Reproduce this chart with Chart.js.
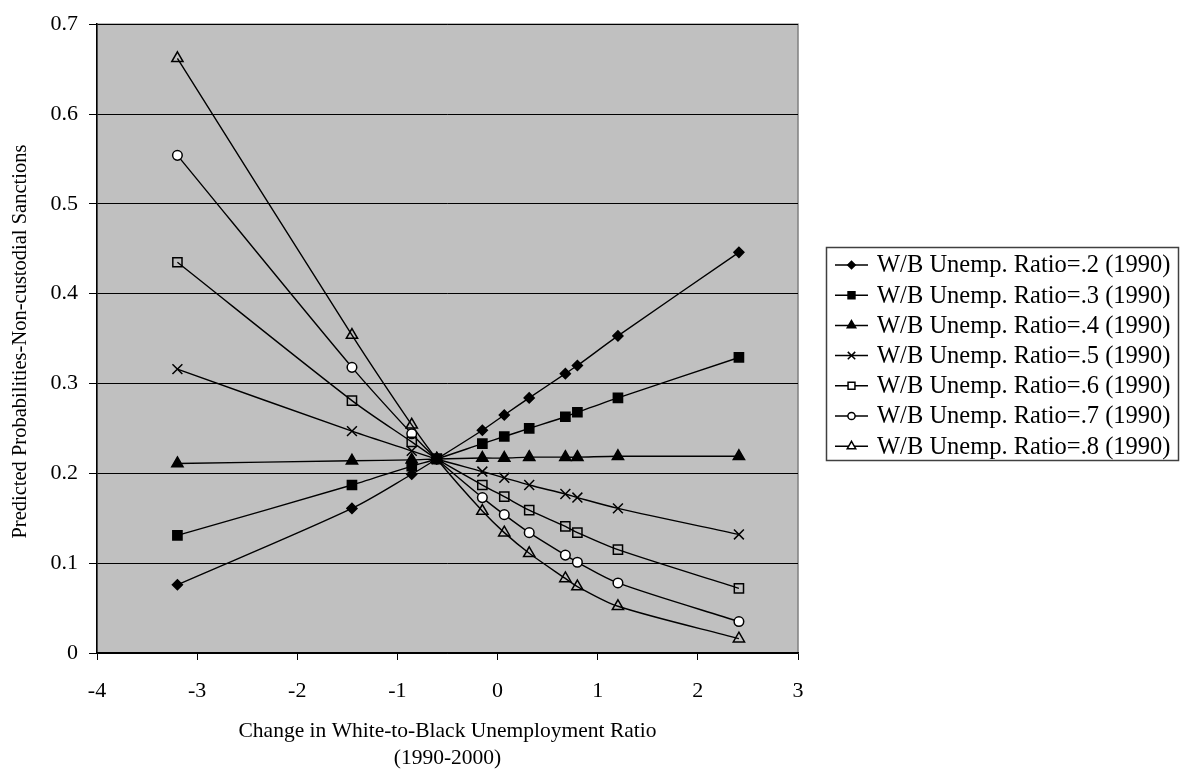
<!DOCTYPE html>
<html>
<head>
<meta charset="utf-8">
<title>Predicted probabilities of non-custodial sanctions</title>
<script src="https://cdn.jsdelivr.net/npm/chart.js@4"></script>
<style>
  html, body { margin: 0; padding: 0; background: #fff; }
  #wrap { width: 1187px; height: 783px; position: relative; }
</style>
</head>
<body>
<div id="wrap"><canvas id="sanctions-chart"></canvas></div>
<script>
// change in white-to-black unemployment ratio, 1990-2000
const xChange = [-3.197, -1.454, -0.857, -0.607, -0.152, 0.067, 0.316, 0.677, 0.797, 1.202, 2.41];

// predicted probabilities for each 1990 W/B unemployment ratio
const ratio2 = [0.076, 0.161, 0.199, 0.216, 0.248, 0.265, 0.284, 0.311, 0.320, 0.353, 0.446];
const ratio3 = [0.131, 0.187, 0.208, 0.216, 0.233, 0.241, 0.250, 0.263, 0.268, 0.284, 0.329];
const ratio4 = [0.211, 0.214, 0.215, 0.216, 0.217, 0.217, 0.218, 0.218, 0.218, 0.219, 0.219];
const ratio5 = [0.316, 0.247, 0.225, 0.216, 0.202, 0.195, 0.187, 0.177, 0.173, 0.161, 0.132];
const ratio6 = [0.435, 0.281, 0.235, 0.216, 0.187, 0.174, 0.159, 0.141, 0.134, 0.115, 0.072];
const ratio7 = [0.554, 0.318, 0.244, 0.216, 0.173, 0.154, 0.134, 0.109, 0.101, 0.078, 0.035];
const ratio8 = [0.662, 0.354, 0.254, 0.216, 0.158, 0.134, 0.111, 0.083, 0.074, 0.052, 0.016];

const seriesLabels = [
  "W/B Unemp. Ratio=.2 (1990)",
  "W/B Unemp. Ratio=.3 (1990)",
  "W/B Unemp. Ratio=.4 (1990)",
  "W/B Unemp. Ratio=.5 (1990)",
  "W/B Unemp. Ratio=.6 (1990)",
  "W/B Unemp. Ratio=.7 (1990)",
  "W/B Unemp. Ratio=.8 (1990)",
];
const xTitle = ["Change in White-to-Black Unemployment Ratio", "(1990-2000)"];
const yTitle = "Predicted Probabilities-Non-custodial Sanctions";

const serif = "'Liberation Serif', 'Times New Roman', serif";

// marker look per series: style, radius, fill
const markers = [
  { style: "rectRot", radius: 5, fill: "#000" },
  { style: "rect", radius: 6.5, fill: "#000" },
  { style: "triangle", radius: 6.5, fill: "#000" },
  { style: "crossRot", radius: 7, fill: "transparent" },
  { style: "rect", radius: 6.5, fill: "transparent" },
  { style: "circle", radius: 4.8, fill: "#fff" },
  { style: "triangle", radius: 6.5, fill: "transparent" },
];

const allSeries = [ratio2, ratio3, ratio4, ratio5, ratio6, ratio7, ratio8];

const datasets = allSeries.map((vals, i) => ({
  label: seriesLabels[i],
  data: vals.map((v, j) => ({ x: xChange[j], y: v })),
  showLine: true,
  borderColor: "#000",
  borderWidth: 1.4,
  tension: 0.3,
  pointStyle: markers[i].style,
  pointRadius: markers[i].radius,
  pointHoverRadius: markers[i].radius,
  pointBackgroundColor: markers[i].fill,
  pointBorderColor: "#000",
  pointBorderWidth: 1.5,
}));

// gray plot area, legend box and axis titles
const decorations = {
  id: "decorations",
  beforeDraw(chart) {
    const { ctx, chartArea: a } = chart;
    ctx.save();
    ctx.fillStyle = "#C0C0C0";
    ctx.fillRect(a.left, a.top, a.right - a.left, a.bottom - a.top);
    ctx.strokeStyle = "#808080";
    ctx.lineWidth = 1.5;
    ctx.strokeRect(a.left, a.top, a.right - a.left, a.bottom - a.top);
    ctx.restore();
  },
  afterDraw(chart) {
    const { ctx, chartArea: a } = chart;
    ctx.save();
    ctx.fillStyle = "#000";
    ctx.font = "21.5px " + serif;
    ctx.textAlign = "center";
    ctx.textBaseline = "middle";
    const cx = (a.left + a.right) / 2;
    ctx.fillText(xTitle[0], cx, 731);
    ctx.fillText(xTitle[1], cx, 758);

    ctx.font = "20.5px " + serif;
    ctx.translate(21, (a.top + a.bottom) / 2 + 3);
    ctx.rotate(-Math.PI / 2);
    ctx.fillText(yTitle, 0, 0);
    ctx.restore();

    // legend
    ctx.save();
    const box = { x: 826.5, y: 247.5, w: 352, h: 213 };
    ctx.fillStyle = "#fff";
    ctx.fillRect(box.x, box.y, box.w, box.h);
    ctx.strokeStyle = "#404040";
    ctx.lineWidth = 1.5;
    ctx.strokeRect(box.x, box.y, box.w, box.h);
    ctx.font = "24.5px " + serif;
    ctx.textAlign = "left";
    ctx.textBaseline = "middle";
    seriesLabels.forEach((label, i) => {
      const y = 265 + i * 30.2;
      ctx.strokeStyle = "#000";
      ctx.lineWidth = 1.5;
      ctx.beginPath();
      ctx.moveTo(835, y);
      ctx.lineTo(868, y);
      ctx.stroke();
      const m = markers[i];
      ctx.fillStyle = m.fill === "transparent" ? "#fff" : m.fill;
      Chart.helpers.drawPoint(ctx, {
        pointStyle: m.style,
        radius: m.radius * 0.75,
        rotation: 0,
        borderWidth: 1.2,
      }, 851.5, y);
      ctx.fillStyle = "#000";
      ctx.fillText(label, 877, y + 1);
    });
    ctx.restore();
  },
};

const chrt = document.getElementById("sanctions-chart").getContext("2d");
const chartId = new Chart(chrt, {
  type: "scatter",
  data: { datasets: datasets },
  plugins: [decorations],
  options: {
    responsive: true,
    maintainAspectRatio: false,
    animation: false,
    layout: { padding: { top: 20, right: 389, left: 0, bottom: 0 } },
    plugins: {
      legend: { display: false },
      tooltip: { enabled: false },
    },
    scales: {
      x: {
        type: "linear",
        min: -4,
        max: 3,
        afterFit: (scale) => { scale.height = 130; },
        ticks: {
          stepSize: 1,
          color: "#000",
          padding: 18,
          font: { family: serif, size: 22 },
        },
        grid: {
          drawOnChartArea: false,
          drawTicks: true,
          tickLength: 7,
          color: "#000",
        },
        border: { display: true, color: "#000", width: 1.5 },
      },
      y: {
        min: 0,
        max: 0.7,
        afterFit: (scale) => { scale.width = 97; },
        ticks: {
          stepSize: 0.1,
          color: "#000",
          padding: 11,
          font: { family: serif, size: 22 },
        },
        grid: {
          color: "#000",
          lineWidth: 1,
          drawTicks: true,
          tickLength: 8,
        },
        border: { display: true, color: "#000", width: 1.5 },
      },
    },
  },
});
</script>
</body>
</html>
